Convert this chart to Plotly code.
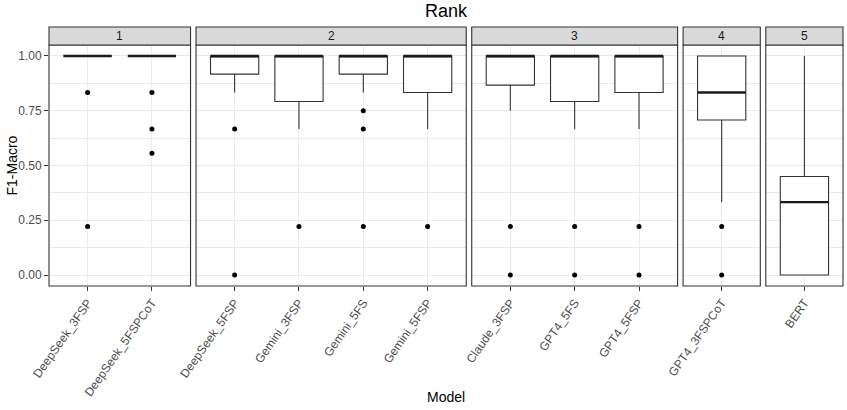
import plotly.graph_objects as go

# ---------------- data ----------------
panels = ["1", "2", "3", "4", "5"]
models = [
    ["DeepSeek_3FSP", "DeepSeek_5FSPCoT"],
    ["DeepSeek_5FSP", "Gemini_3FSP", "Gemini_5FS", "Gemini_5FSP"],
    ["Claude_3FSP", "GPT4_5FS", "GPT4_5FSP"],
    ["GPT4_3FSPCoT"],
    ["BERT"],
]
q1 = [
    [1.0, 1.0],
    [0.917, 0.792, 0.917, 0.833],
    [0.867, 0.792, 0.833],
    [0.708],
    [0.0],
]
median = [
    [1.0, 1.0],
    [1.0, 1.0, 1.0, 1.0],
    [1.0, 1.0, 1.0],
    [0.833],
    [0.333],
]
q3 = [
    [1.0, 1.0],
    [1.0, 1.0, 1.0, 1.0],
    [1.0, 1.0, 1.0],
    [1.0],
    [0.45],
]
lower = [
    [1.0, 1.0],
    [0.833, 0.667, 0.833, 0.667],
    [0.75, 0.667, 0.667],
    [0.333],
    [0.0],
]
upper = [
    [1.0, 1.0],
    [1.0, 1.0, 1.0, 1.0],
    [1.0, 1.0, 1.0],
    [1.0],
    [1.0],
]
outliers = [
    [[0.833, 0.222], [0.833, 0.667, 0.556]],
    [[0.667, 0.0], [0.222], [0.75, 0.667, 0.222], [0.222]],
    [[0.222, 0.0], [0.222, 0.0], [0.222, 0.0]],
    [[0.222, 0.0]],
    [[]],
]
y_ticks = [0.0, 0.25, 0.5, 0.75, 1.0]

# ---------------- geometry ----------------
W, H = 847, 410
ML, MR, MT, MB = 49, 4, 27, 124
PW = W - ML - MR
PH = H - MT - MB
STRIP = 18
GAP = 5.5
EXP = 0.6
BOXW = 0.75

units = [len(m) - 1 + 2 * EXP for m in models]
upx = (PW - GAP * (len(models) - 1)) / sum(units)
domains = []
pos = 0.0
for u in units:
    domains.append([pos / PW, (pos + u * upx) / PW])
    pos += u * upx + GAP
ytop = (PH - STRIP) / PH

DARK = "#333333"
GRID = "#EBEBEB"
FONT = "Liberation Sans, Arial, sans-serif"
TICKSIZE = 12

fig = go.Figure()
layout = dict(
    width=W, height=H,
    margin=dict(l=ML, r=MR, t=MT, b=MB, autoexpand=False),
    paper_bgcolor="white", plot_bgcolor="white",
    showlegend=False,
    font=dict(family=FONT, size=TICKSIZE, color="#4D4D4D"),
)

shapes = []
annotations = []
for p, names in enumerate(models):
    xa = "x" if p == 0 else f"x{p+1}"
    key = "xaxis" if p == 0 else f"xaxis{p+1}"
    idx = list(range(len(names)))
    for i, n in enumerate(names):
        fig.add_trace(go.Box(
            x=[i], q1=[q1[p][i]], median=[median[p][i]], q3=[q3[p][i]],
            lowerfence=[lower[p][i]], upperfence=[upper[p][i]],
            width=BOXW, whiskerwidth=0, fillcolor="white",
            line=dict(color=DARK, width=1.1), boxpoints=False,
            xaxis=xa, yaxis="y", hoverinfo="skip",
        ))
        fig.add_trace(go.Scatter(
            x=[i - BOXW / 2, i + BOXW / 2], y=[median[p][i]] * 2,
            mode="lines", line=dict(color="#1A1A1A", width=2.4),
            xaxis=xa, yaxis="y", hoverinfo="skip",
        ))
        pts = outliers[p][i]
        if pts:
            fig.add_trace(go.Scatter(
                x=[i] * len(pts), y=pts, mode="markers",
                marker=dict(color="black", size=5),
                xaxis=xa, yaxis="y", hoverinfo="skip",
            ))
    layout[key] = dict(
        domain=domains[p], anchor="y", automargin=False,
        range=[-EXP, len(names) - 1 + EXP],
        tickmode="array", tickvals=idx, ticktext=names,
        tickangle=-55, ticks="outside", ticklen=4, tickcolor=DARK,
        showgrid=True, gridcolor=GRID, gridwidth=1,
        zeroline=False, showline=False, fixedrange=True,
        tickfont=dict(family=FONT, size=TICKSIZE, color="#4D4D4D"),
    )
    xd = f"{xa} domain"
    # panel border
    shapes.append(dict(type="rect", xref=xd, yref="paper", x0=0, x1=1,
                       y0=0, y1=ytop, line=dict(color=DARK, width=1.1),
                       fillcolor="rgba(0,0,0,0)", layer="above"))
    # strip
    shapes.append(dict(type="rect", xref=xd, yref="paper", x0=0, x1=1,
                       y0=ytop, y1=1, line=dict(color=DARK, width=1.1),
                       fillcolor="#D9D9D9", layer="above"))
    annotations.append(dict(xref=xd, yref="paper", x=0.5,
                            y=(ytop + 1) / 2, text=panels[p],
                            showarrow=False, xanchor="center", yanchor="middle",
                            font=dict(family=FONT, size=TICKSIZE, color="#1A1A1A")))

layout["yaxis"] = dict(
    domain=[0, ytop], anchor="x", range=[-0.05, 1.05], automargin=False,
    tickmode="array", tickvals=y_ticks,
    ticktext=[f"{v:.2f}" for v in y_ticks],
    ticks="outside", ticklen=4, tickcolor=DARK,
    showgrid=True, gridcolor=GRID, gridwidth=1,
    minor=dict(dtick=0.125, tick0=0, showgrid=True, gridcolor=GRID, gridwidth=0.6),
    zeroline=False, showline=False, fixedrange=True,
    tickfont=dict(family=FONT, size=TICKSIZE, color="#4D4D4D"),
)

annotations.append(dict(xref="paper", yref="paper", x=0.5,
                        y=1 + (MT - 11) / PH, text="Rank", showarrow=False,
                        xanchor="center", yanchor="middle",
                        font=dict(family=FONT, size=18, color="black")))
annotations.append(dict(xref="paper", yref="paper", x=(12 - ML) / PW,
                        y=(ytop) / 2, text="F1-Macro", showarrow=False,
                        textangle=-90, xanchor="center", yanchor="middle",
                        font=dict(family=FONT, size=14, color="black")))
annotations.append(dict(xref="paper", yref="paper", x=0.5,
                        y=-(397 - (MT + PH)) / PH, text="Model", showarrow=False,
                        xanchor="center", yanchor="middle",
                        font=dict(family=FONT, size=14, color="black")))

layout["shapes"] = shapes
layout["annotations"] = annotations
fig.update_layout(**layout)
fig.write_html(
    "out.html",
    config={"displayModeBar": False},
    post_script="document.body.style.margin='0';document.body.style.overflow='hidden';",
)
